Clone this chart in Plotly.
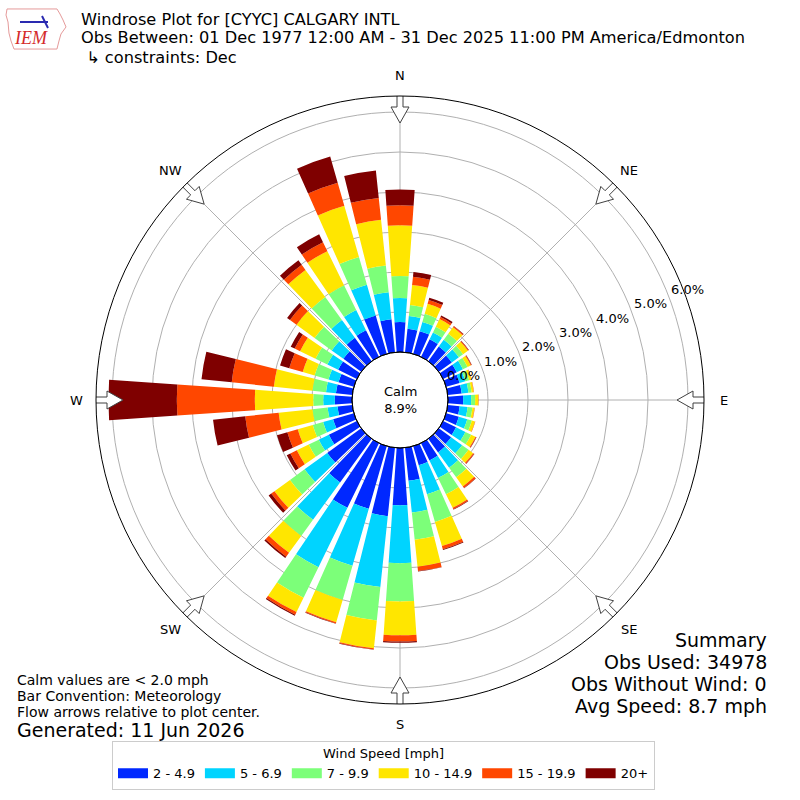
import math
import plotly.graph_objects as go

# windrose for CYYC, December, percent of all obs
directions = list(range(0, 360, 10))
speed_bins = ["2 - 4.9", "5 - 6.9", "7 - 9.9", "10 - 14.9", "15 - 19.9", "20+"]
bin_colors = ["#0028ff", "#00d4ff", "#7cff79", "#ffe600", "#ff4700", "#7f0000"]

pct_2_5 = [0.75, 0.59, 0.59, 0.49, 0.45, 0.40, 0.38, 0.35, 0.35, 0.38, 0.30, 0.33,
           0.36, 0.38, 0.42, 0.48, 0.50, 0.83, 1.43, 1.72, 1.63, 1.80, 1.35, 1.05,
           0.78, 0.54, 0.37, 0.43, 0.41, 0.40, 0.52, 0.55, 0.72, 0.74, 1.00, 0.83]
pct_5_7 = [0.60, 0.32, 0.24, 0.19, 0.21, 0.22, 0.17, 0.15, 0.17, 0.20, 0.20, 0.22,
           0.26, 0.34, 0.47, 0.49, 0.75, 0.80, 1.45, 1.78, 1.48, 1.65, 1.15, 0.70,
           0.28, 0.26, 0.25, 0.29, 0.25, 0.26, 0.30, 0.36, 0.55, 0.56, 0.80, 0.68]
pct_7_10 = [0.55, 0.28, 0.21, 0.16, 0.19, 0.13, 0.13, 0.10, 0.08, 0.10, 0.12, 0.12,
            0.16, 0.20, 0.30, 0.45, 0.72, 0.68, 0.96, 0.84, 0.89, 0.85, 0.50, 0.45,
            0.28, 0.27, 0.38, 0.25, 0.34, 0.36, 0.33, 0.53, 0.71, 0.69, 0.72, 0.67]
pct_10_15 = [1.27, 0.50, 0.26, 0.21, 0.20, 0.15, 0.09, 0.06, 0.05, 0.08, 0.05, 0.08,
             0.12, 0.14, 0.28, 0.38, 0.63, 0.68, 0.84, 0.70, 0.58, 0.40, 0.52, 0.48,
             0.33, 0.39, 0.85, 1.46, 0.97, 0.31, 0.43, 0.56, 0.84, 0.95, 1.33, 1.15]
pct_15_20 = [0.50, 0.21, 0.10, 0.06, 0.03, 0.02, 0.02, 0.01, 0.01, 0.01, 0.01, 0.01,
             0.02, 0.03, 0.05, 0.04, 0.08, 0.11, 0.16, 0.03, 0.03, 0.07, 0.12, 0.10,
             0.18, 0.27, 0.84, 1.95, 1.06, 0.35, 0.15, 0.20, 0.16, 0.25, 0.60, 0.55]
pct_20_up = [0.39, 0.12, 0.06, 0.04, 0.01, 0.01, 0.01, 0.00, 0.00, 0.00, 0.00, 0.00,
             0.01, 0.01, 0.01, 0.01, 0.02, 0.01, 0.03, 0.01, 0.01, 0.03, 0.04, 0.08,
             0.10, 0.27, 0.81, 1.71, 0.76, 0.24, 0.11, 0.09, 0.14, 0.22, 0.68, 0.69]

radial_ticks = [0, 1, 2, 3, 4, 5, 6]
compass = ["N", "NE", "E", "SE", "S", "SW", "W", "NW"]
calm_pct = 8.9

FONT = "DejaVu Sans"
W = H = 800
R_MAX = 6.4
R_OUT = 304          # px, outer ring radius
R_HOLE = 48          # px, calm circle radius
PX_PER_UNIT = (R_OUT - R_HOLE) / R_MAX


def px(x, y):
    """pixel (from top-left) -> paper coords"""
    return x / W, 1 - y / H


def polar_px(bearing, dist):
    a = math.radians(bearing)
    return px(W / 2 + dist * math.sin(a), H / 2 - dist * math.cos(a))


fig = go.Figure()

for name, vals, col in zip(speed_bins,
                           [pct_2_5, pct_5_7, pct_7_10, pct_10_15, pct_15_20, pct_20_up],
                           bin_colors):
    fig.add_trace(go.Barpolar(r=vals, theta=directions, width=8, name=name,
                              marker=dict(color=col, line=dict(width=0)),
                              showlegend=False, hoverinfo="skip"))
    # legend proxy: thick line gives the wide matplotlib-style swatch
    fig.add_trace(go.Scatterpolar(r=[None], theta=[None], mode="lines", name=name,
                                  line=dict(color=col, width=10), hoverinfo="skip"))


# hollow flow arrows at the compass points, pointing at the centre
def arrow(theta):
    pts = [(277, 0), (293, 9), (293, 3), (307, 3), (307, -3), (293, -3), (293, -9), (277, 0)]
    rr, tt = [], []
    for a, b in pts:
        rr.append((math.hypot(a, b) - R_HOLE) / PX_PER_UNIT)
        tt.append(theta + math.degrees(math.atan2(b, a)))
    return rr, tt


for k in range(8):
    rr, tt = arrow(k * 45)
    fig.add_trace(go.Scatterpolar(r=rr, theta=tt, mode="lines", fill="toself",
                                  fillcolor="white", line=dict(color="#404040", width=1),
                                  showlegend=False, hoverinfo="skip", cliponaxis=False))

ann = []


def text(x, y, t, size, xa="center", ya="middle", **kw):
    xx, yy = px(x, y)
    ann.append(dict(x=xx, y=yy, xref="paper", yref="paper", text=t, showarrow=False,
                    xanchor=xa, yanchor=ya, borderpad=0,
                    font=dict(size=size, **kw)))


for k, lab in enumerate(compass):
    xx, yy = polar_px(k * 45, 324)
    ann.append(dict(x=xx, y=yy, text=lab, showarrow=False, xanchor="center",
                    yanchor="middle", font=dict(size=13)))

# radial labels, matplotlib style: beside each ring, along ~69 deg bearing
for v in radial_ticks:
    xx, yy = polar_px(69, R_HOLE + v * PX_PER_UNIT + 20)
    ann.append(dict(x=xx, y=yy, text=f"{v:.1f}%", showarrow=False, xanchor="center",
                    yanchor="middle", font=dict(size=13)))

text(400, 400, f"Calm<br>{calm_pct:.1f}%", 13)

title_lines = [
    "Windrose Plot for [CYYC] CALGARY INTL",
    "Obs Between: 01 Dec 1977 12:00 AM - 31 Dec 2025 11:00 PM America/Edmonton",
    " \u21b3 constraints: Dec",
]
for i, t in enumerate(title_lines):
    text(80, 19 + 19 * i, t, 16.2, xa="left")

text(31, 38, "<i>IEM</i>", 18, color="#d42a2a", family="Liberation Serif")

notes = ["Calm values are < 2.0 mph", "Bar Convention: Meteorology",
         "Flow arrows relative to plot center."]
for i, t in enumerate(notes):
    text(16, 680 + 16 * i, t, 14, xa="left")
text(16, 730, "Generated: 11 Jun 2026", 19, xa="left")

summary = ["Summary", "Obs Used: 34978", "Obs Without Wind: 0", "Avg Speed: 8.7 mph"]
for i, t in enumerate(summary):
    text(768, 640 + 22 * i, t, 19, xa="right")


# little IEM logo: state outline and a blue glyph
def path(points):
    s = ""
    for i, (x, y) in enumerate(points):
        xx, yy = px(x, y)
        s += ("M" if i == 0 else "L") + f"{xx:.4f},{yy:.4f} "
    return s + "Z"


logo_outline = [(7, 9), (57, 9), (60, 14), (63, 20), (66, 27), (61, 34), (59, 41),
                (57, 49), (14, 49), (11, 41), (9, 33), (8, 22), (6, 15)]
shapes = [
    dict(type="path", xref="paper", yref="paper", path=path(logo_outline),
         line=dict(color="#e59a9a", width=1)),
    dict(type="line", xref="paper", yref="paper", x0=20 / W, x1=48 / W,
         y0=1 - 22 / H, y1=1 - 22 / H, line=dict(color="#2a2ab0", width=2)),
    dict(type="line", xref="paper", yref="paper", x0=42 / W, x1=48 / W,
         y0=1 - 16 / H, y1=1 - 28 / H, line=dict(color="#2a2ab0", width=2)),
    dict(type="circle", xref="paper", yref="paper",
         x0=0.5 - R_HOLE / W, x1=0.5 + R_HOLE / W,
         y0=0.5 - R_HOLE / H, y1=0.5 + R_HOLE / H,
         line=dict(color="black", width=1)),
]

fig.update_layout(
    width=W, height=H,
    margin=dict(l=0, r=0, t=0, b=0),
    paper_bgcolor="white",
    font=dict(family=FONT, size=13, color="black"),
    polar=dict(
        domain=dict(x=[0.5 - R_OUT / W, 0.5 + R_OUT / W], y=[0.5 - R_OUT / H, 0.5 + R_OUT / H]),
        hole=R_HOLE / R_OUT,
        bgcolor="white",
        barmode="stack",
        angularaxis=dict(direction="clockwise", rotation=90,
                         tickvals=[k * 45 for k in range(8)], showticklabels=False,
                         ticks="", showgrid=True, gridcolor="#b0b0b0", gridwidth=1,
                         linecolor="black", linewidth=1),
        radialaxis=dict(range=[0, R_MAX], tickvals=radial_ticks, showticklabels=False,
                        angle=22.5, showline=False, ticks="",
                        gridcolor="#b0b0b0", gridwidth=1),
    ),
    legend=dict(orientation="h", x=112 / W, xanchor="left", y=1 - 765 / H,
                yanchor="middle", bordercolor="#cccccc", borderwidth=1,
                font=dict(size=13), itemwidth=30,
                title=dict(text="Wind Speed [mph]", side="top center", font=dict(size=13))),
    annotations=ann,
    shapes=shapes,
)

fig.write_html("out.html", config={"displayModeBar": False},
               post_script="document.body.style.margin='0';")
